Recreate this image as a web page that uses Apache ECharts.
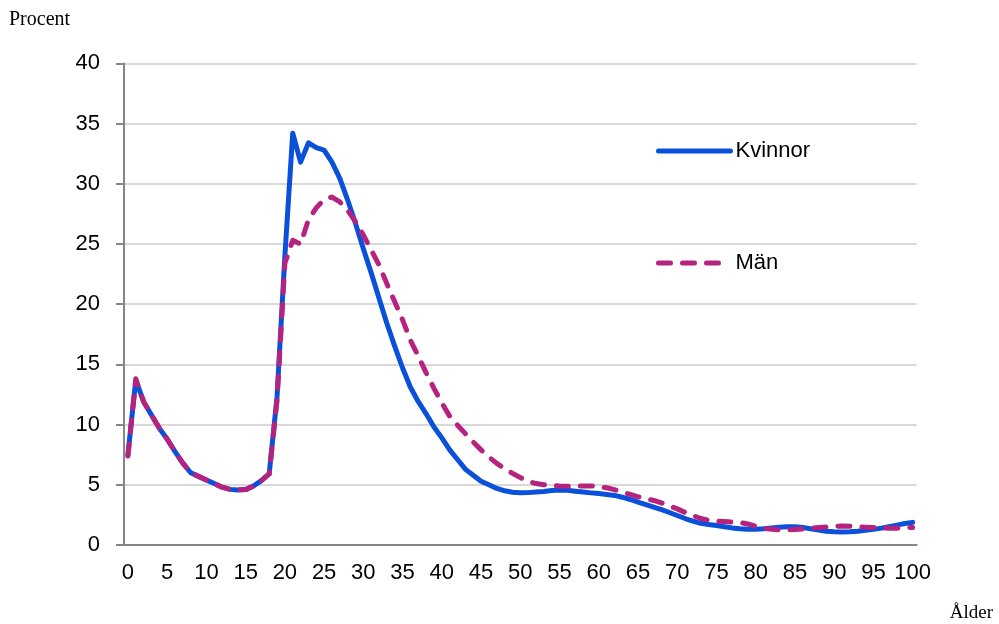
<!DOCTYPE html>
<html>
<head>
<meta charset="utf-8">
<script src="https://cdn.jsdelivr.net/npm/echarts@6/dist/echarts.min.js"></script>
<style>
html,body{margin:0;padding:0;background:#fff;}
#chart{width:999px;height:624px;}
</style>
</head>
<body>
<div id="chart"></div>
<script>
// Ages 0..100
const ages = [];
for (let a = 0; a <= 100; a++) ages.push(String(a));

const kvinnor = [
  7.5, 13.7, 11.9, 10.8, 9.7, 8.8, 7.75, 6.8, 6.0, 5.7,
  5.4, 5.1, 4.8, 4.62, 4.57, 4.6, 4.9, 5.35, 5.9, 12.3,
  24.0, 34.2, 31.8, 33.4, 33.0, 32.8, 31.8, 30.45, 28.65, 26.7,
  24.6, 22.6, 20.5, 18.4, 16.5, 14.7, 13.1, 11.9, 10.9, 9.8,
  8.9, 7.9, 7.1, 6.3, 5.8, 5.3, 5.0, 4.7, 4.5, 4.38,
  4.33, 4.35, 4.4, 4.45, 4.52, 4.57, 4.55, 4.47, 4.4, 4.33,
  4.27, 4.2, 4.12, 3.97, 3.78, 3.57, 3.36, 3.15, 2.93, 2.7,
  2.45, 2.2, 1.98, 1.8, 1.7, 1.62, 1.52, 1.42, 1.35, 1.3,
  1.3, 1.35, 1.42, 1.48, 1.52, 1.52, 1.45, 1.35, 1.25, 1.15,
  1.1, 1.08, 1.1, 1.15, 1.22, 1.3, 1.4, 1.52, 1.65, 1.78,
  1.88
];

const man = [
  7.4, 13.8, 11.9, 10.8, 9.7, 8.8, 7.75, 6.8, 6.0, 5.7,
  5.4, 5.1, 4.8, 4.62, 4.57, 4.6, 4.9, 5.35, 5.9, 12.0,
  23.4, 25.3, 25.0, 27.0, 28.0, 28.7, 28.9, 28.5, 27.8, 26.85,
  25.75, 24.5, 23.25, 21.7, 20.2, 18.7, 17.0, 15.7, 14.3, 13.0,
  11.8, 10.7, 9.95, 9.25, 8.55, 7.9, 7.3, 6.78, 6.35, 5.95,
  5.6, 5.3, 5.1, 5.0, 4.95, 4.9, 4.87, 4.88, 4.9, 4.9,
  4.85, 4.75, 4.6, 4.4, 4.2, 4.0, 3.85, 3.7, 3.5, 3.25,
  3.0, 2.7, 2.45, 2.2, 2.05, 1.98, 1.95, 1.9, 1.86, 1.75,
  1.55, 1.4, 1.3, 1.25, 1.25, 1.28, 1.33, 1.4, 1.45, 1.5,
  1.55, 1.57, 1.55, 1.52, 1.48, 1.45, 1.42, 1.4, 1.4, 1.43,
  1.46
];

const seriesNames = ['Kvinnor', 'Män'];
const seriesColors = ['#0A50DB', '#B5237F'];
const yTicks = { min: 0, max: 40, interval: 5 };
const yAxisTitle = 'Procent';
const xAxisTitle = 'Ålder';

const chart = echarts.init(document.getElementById('chart'), null, { renderer: 'canvas' });
const axisGray = '#868686';
const labelFont = 'Liberation Sans, Arial, sans-serif';
const manDash = [12, 12];

chart.setOption({
  animation: false,
  backgroundColor: '#ffffff',
  grid: { left: 124, right: 82.4, top: 63.4, bottom: 79, containLabel: false },
  legend: [
    {
      left: 651, top: 135, padding: 5, itemWidth: 72, itemHeight: 20, itemGap: 0,
      textStyle: { fontSize: 22, color: '#000', fontFamily: labelFont },
      itemStyle: { opacity: 0 },
      lineStyle: { width: 5, cap: 'round', type: 'solid', color: seriesColors[0] },
      data: [seriesNames[0]]
    },
    {
      left: 651, top: 247, padding: 5, itemWidth: 72, itemHeight: 20, itemGap: 0,
      textStyle: { fontSize: 22, color: '#000', fontFamily: labelFont },
      itemStyle: { opacity: 0 },
      lineStyle: { width: 5, cap: 'round', type: manDash, color: seriesColors[1] },
      data: [seriesNames[1]]
    }
  ],
  xAxis: {
    type: 'category',
    data: ages,
    boundaryGap: true,
    axisLine: { lineStyle: { color: axisGray, width: 2 } },
    axisTick: { interval: 4, length: 7, lineStyle: { color: axisGray, width: 2 } },
    axisLabel: { interval: 4, margin: 17, fontSize: 22, color: '#000', fontFamily: labelFont },
    splitLine: { show: false }
  },
  yAxis: {
    type: 'value',
    min: yTicks.min,
    max: yTicks.max,
    interval: yTicks.interval,
    axisLine: { show: true, lineStyle: { color: axisGray, width: 2 } },
    axisTick: { show: true, length: 8, lineStyle: { color: axisGray, width: 2 } },
    axisLabel: { margin: 24, fontSize: 22, color: '#000', fontFamily: labelFont },
    splitLine: { show: true, lineStyle: { color: '#d9d9d9', width: 2 } }
  },
  graphic: [
    { type: 'text', left: 9, top: 10,
      style: { text: yAxisTitle, font: '20px "Liberation Serif", "Times New Roman", serif', fill: '#000' } },
    { type: 'text', right: 6, top: 604,
      style: { text: xAxisTitle, font: '19px "Liberation Serif", "Times New Roman", serif', fill: '#000' } }
  ],
  series: [
    {
      name: seriesNames[0],
      type: 'line',
      data: kvinnor,
      symbol: 'none',
      smooth: false,
      lineStyle: { color: seriesColors[0], width: 5, cap: 'round', join: 'round' },
      itemStyle: { color: seriesColors[0] },
      z: 2
    },
    {
      name: seriesNames[1],
      type: 'line',
      data: man,
      symbol: 'none',
      smooth: false,
      lineStyle: { color: seriesColors[1], width: 5, type: manDash, cap: 'round', join: 'round' },
      itemStyle: { color: seriesColors[1] },
      z: 3
    }
  ]
});
</script>
</body>
</html>
